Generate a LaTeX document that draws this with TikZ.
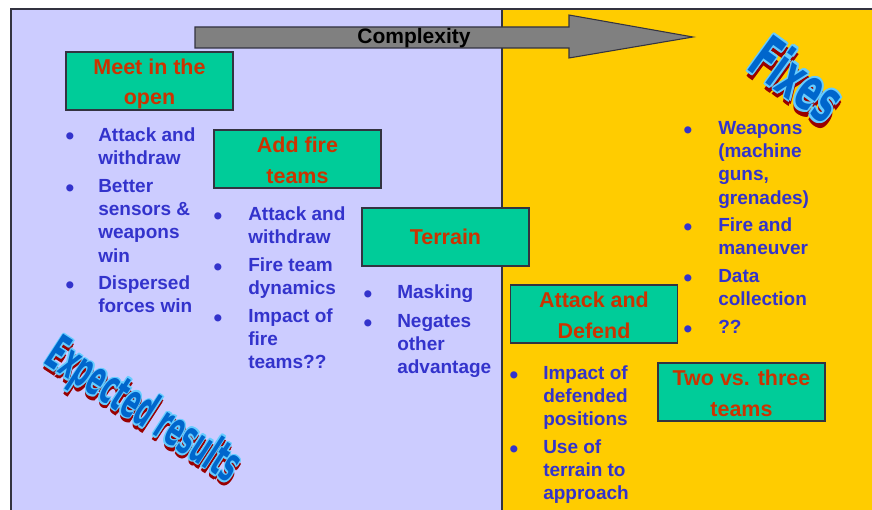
\documentclass[tikz,border=0pt]{standalone}
\usepackage{fontspec}
\setmainfont{Liberation Sans}
\newfontfamily\wafont{DejaVu Sans}
\usepackage{graphicx}
\definecolor{lav}{HTML}{CCCCFF}
\definecolor{yel}{HTML}{FFCC00}
\definecolor{boxgreen}{HTML}{00CC99}
\definecolor{boxred}{HTML}{CC3300}
\definecolor{itemblue}{HTML}{3333CC}
\definecolor{wfill}{HTML}{0066CC}
\definecolor{wline}{HTML}{66CCFF}
\definecolor{wshadow}{HTML}{990000}
\definecolor{frame}{HTML}{333340}
\definecolor{arrowgray}{HTML}{808080}
\newcommand\itemfont{\fontsize{14.25pt}{17.5pt}\selectfont\bfseries}
\newcommand\boxfont{\fontsize{16.1pt}{23.25pt}\selectfont\bfseries}
\newcommand\fs{\rule{0pt}{13.5pt}}
\newcommand\bta{\rule{0pt}{16.5pt}}
\newcommand\btd{\rule[-3.75pt]{0pt}{3.75pt}}
\newcommand\bu{\scalebox{1.3}{•}}
\newcommand\wcopy[3]{\rlap{\kern#1\raisebox{#2}{\textcolor{#3}{\wtext}}}}
\newcommand\wart[1]{\def\wtext{#1}\leavevmode
 \wcopy{1.8pt}{-1.4pt}{wshadow}\wcopy{2.6pt}{-2.0pt}{wshadow}\wcopy{2.6pt}{-1.0pt}{wshadow}\wcopy{1.4pt}{-2.0pt}{wshadow}%
 \wcopy{-1.1pt}{0pt}{wline}\wcopy{1.1pt}{0pt}{wline}\wcopy{0pt}{0.8pt}{wline}\wcopy{0pt}{-0.8pt}{wline}%
 \wcopy{-0.8pt}{0.6pt}{wline}\wcopy{0.8pt}{0.6pt}{wline}\wcopy{-0.8pt}{-0.6pt}{wline}\wcopy{0.8pt}{-0.6pt}{wline}%
 \textcolor{wfill}{#1}}
\tikzset{
 item/.style={anchor=north west, inner sep=0pt, align=left, text=itemblue, font=\itemfont},
 bul/.style={anchor=base, inner sep=0pt, text=itemblue, font=\itemfont},
 gbox/.style={draw=frame, fill=boxgreen, line width=0.9pt, minimum width=125.25pt, minimum height=43.5pt, inner sep=0pt, align=center, text=boxred, font=\boxfont},
 wordart/.style={inner sep=0pt, font=\wafont\fontsize{22pt}{24pt}\selectfont\bfseries},
}
\begin{document}
\begin{tikzpicture}[x=0.75pt,y=-0.75pt]
\useasboundingbox (0,0) rectangle (872,510);
\fill[white] (0,0) rectangle (872,510);
\fill[lav] (11,9) rectangle (502,510);
\fill[yel] (502,9) rectangle (872,510);
\draw[frame, line width=0.8pt] (11,510) -- (11,9) -- (872,9);
\draw[frame, line width=0.8pt] (502,9) -- (502,510);
% arrow
\draw[frame, fill=arrowgray, line width=0.8pt]
 (195,27) -- (569,27) -- (569,15) -- (693,37) -- (569,58) -- (569,48) -- (195,48) -- cycle;
\node[anchor=base, inner sep=0pt, font=\fontsize{15.75pt}{18pt}\selectfont\bfseries] (cx) at (414,44) {Complexity};
% boxes
\node[gbox] (meet) at (149.5,81) {\bta Meet in the\\open\btd};
\node[gbox] (fire) at (297.5,159) {\bta Add fire\\teams\btd};
\node[gbox] (terr) at (445.5,237) {\rule{0pt}{15pt}Terrain\rule[-4.5pt]{0pt}{4.5pt}};
\node[gbox] (atk) at (594,314) {\bta Attack and\\Defend\btd};
\node[gbox] (two) at (741.5,392) {\bta Two vs. three\\teams\btd};
% list 1
\node[bul] (b11) at (70,145) {\bu};
\node[item] (i11) at (98,123) {\fs Attack and\\withdraw};
\node[bul] (b12) at (70,196) {\bu};
\node[item] (i12) at (98,174) {\fs Better\\sensors \&\\weapons\\win};
\node[bul] (b13) at (70,293) {\bu};
\node[item] (i13) at (98,271) {\fs Dispersed\\forces win};
% list 2
\node[bul] (b21) at (218,224) {\bu};
\node[item] (i21) at (248,202) {\fs Attack and\\withdraw};
\node[bul] (b22) at (218,275) {\bu};
\node[item] (i22) at (248,253) {\fs Fire team\\dynamics};
\node[bul] (b23) at (218,326) {\bu};
\node[item] (i23) at (248,304) {\fs Impact of\\fire\\teams??};
% list 3
\node[bul] (b31) at (368,302) {\bu};
\node[item] (i31) at (397,280) {\fs Masking};
\node[bul] (b32) at (368,331) {\bu};
\node[item] (i32) at (397,309) {\fs Negates\\other\\advantage};
% list 4
\node[bul] (b41) at (514,383) {\bu};
\node[item] (i41) at (543,361) {\fs Impact of\\defended\\positions};
\node[bul] (b42) at (514,457) {\bu};
\node[item] (i42) at (543,435) {\fs Use of\\terrain to\\approach};
% list 5
\node[bul] (b51) at (688,138) {\bu};
\node[item] (i51) at (718,116) {\fs Weapons\\(machine\\guns,\\grenades)};
\node[bul] (b52) at (688,235) {\bu};
\node[item] (i52) at (718,213) {\fs Fire and\\maneuver};
\node[bul] (b53) at (688,286) {\bu};
\node[item] (i53) at (718,264) {\fs Data\\collection};
\node[bul] (b54) at (688,337) {\bu};
\node[item] (i54) at (718,315) {\fs ??};
% word art
\node[wordart, rotate=-33] (exp) at (142,413) {\scalebox{0.8}[1.65]{\wart{Expected results}}};
\node[wordart, rotate=-36] (fix) at (797,80) {\scalebox{1.12}[2.05]{\wart{Fixes}}};
\end{tikzpicture}
\end{document}
